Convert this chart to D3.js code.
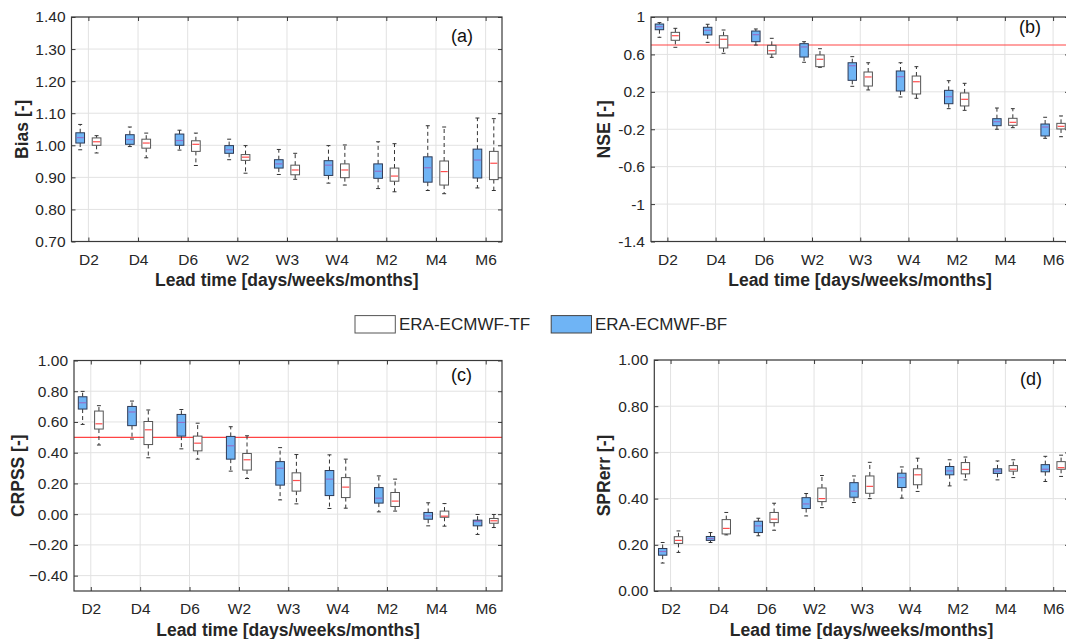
<!DOCTYPE html>
<html><head><meta charset="utf-8">
<script src="https://cdn.jsdelivr.net/npm/d3@7"></script>
<style>
body{margin:0;background:#fff}
svg{display:block;font-family:"Liberation Sans",Arial,Helvetica,sans-serif}
</style>
</head><body>
<svg id="chart" width="1066" height="639"></svg>
<script>
// ---------- DATA ----------
const leadTimes = ["D2","D4","D6","W2","W3","W4","M2","M4","M6"];
// each entry: [lower whisker, Q1, median, Q3, upper whisker]
const biasBF = [[0.986,1.007,1.024,1.039,1.065],[0.996,1.003,1.018,1.033,1.057],[0.985,1.000,1.015,1.035,1.047],[0.955,0.975,0.986,0.999,1.019],[0.909,0.929,0.942,0.955,0.987],[0.882,0.906,0.938,0.952,0.999],[0.865,0.897,0.919,0.942,1.011],[0.859,0.885,0.930,0.964,1.061],[0.867,0.898,0.954,0.988,1.085]];
const biasTF = [[0.976,1.000,1.011,1.023,1.030],[0.961,0.991,1.007,1.019,1.038],[0.937,0.981,1.003,1.014,1.038],[0.913,0.953,0.963,0.971,0.999],[0.894,0.908,0.923,0.938,0.975],[0.876,0.899,0.923,0.942,1.001],[0.855,0.888,0.904,0.929,1.005],[0.849,0.876,0.918,0.951,1.057],[0.859,0.893,0.944,0.981,1.083]];
const nseBF = [[0.783,0.864,0.896,0.925,0.940],[0.729,0.808,0.858,0.890,0.922],[0.700,0.736,0.811,0.850,0.872],[0.516,0.572,0.680,0.715,0.736],[0.259,0.323,0.479,0.511,0.576],[0.145,0.209,0.362,0.423,0.511],[0.020,0.073,0.148,0.216,0.319],[-0.200,-0.162,-0.119,-0.087,0.027],[-0.297,-0.272,-0.176,-0.144,-0.072]];
const nseTF = [[0.676,0.751,0.800,0.836,0.879],[0.612,0.669,0.762,0.800,0.861],[0.569,0.604,0.640,0.697,0.772],[0.462,0.469,0.548,0.594,0.661],[0.220,0.262,0.359,0.412,0.511],[0.131,0.177,0.308,0.369,0.469],[0.002,0.049,0.120,0.188,0.291],[-0.183,-0.158,-0.126,-0.083,0.020],[-0.280,-0.197,-0.169,-0.137,-0.058]];
const crpssBF = [[0.584,0.684,0.725,0.764,0.799],[0.489,0.576,0.665,0.701,0.736],[0.425,0.508,0.597,0.649,0.681],[0.280,0.358,0.445,0.506,0.569],[0.093,0.189,0.299,0.342,0.433],[0.037,0.121,0.228,0.284,0.386],[0.015,0.072,0.104,0.173,0.249],[-0.076,-0.033,-0.011,0.011,0.074],[-0.132,-0.076,-0.048,-0.039,-0.002]];
const crpssTF = [[0.450,0.554,0.588,0.671,0.706],[0.367,0.453,0.549,0.603,0.678],[0.358,0.412,0.462,0.508,0.592],[0.232,0.287,0.354,0.395,0.510],[0.067,0.150,0.219,0.269,0.388],[0.039,0.108,0.176,0.238,0.358],[0.020,0.050,0.085,0.141,0.228],[-0.078,-0.020,-0.013,0.020,0.069],[-0.087,-0.059,-0.043,-0.028,-0.002]];
const sprBF = [[0.121,0.155,0.171,0.184,0.210],[0.210,0.219,0.227,0.236,0.253],[0.239,0.253,0.282,0.302,0.315],[0.325,0.357,0.377,0.404,0.422],[0.383,0.406,0.432,0.469,0.498],[0.402,0.448,0.491,0.510,0.537],[0.455,0.503,0.520,0.539,0.568],[0.481,0.509,0.519,0.529,0.563],[0.474,0.516,0.527,0.547,0.583]];
const sprTF = [[0.167,0.206,0.219,0.235,0.260],[0.243,0.247,0.271,0.309,0.340],[0.263,0.296,0.311,0.340,0.380],[0.361,0.387,0.400,0.446,0.500],[0.400,0.423,0.453,0.498,0.557],[0.431,0.460,0.503,0.529,0.575],[0.481,0.507,0.526,0.556,0.580],[0.491,0.519,0.527,0.543,0.568],[0.496,0.527,0.534,0.560,0.588]];
const biasTicks = [0.7,0.8,0.9,1.0,1.1,1.2,1.3,1.4];
const nseTicks = [-1.4,-1,-0.6,-0.2,0.2,0.6,1];
const crpssTicks = [-0.4,-0.2,0,0.2,0.4,0.6,0.8,1.0];
const sprTicks = [0,0.2,0.4,0.6,0.8,1.0];
const seriesNames = ["ERA-ECMWF-TF","ERA-ECMWF-BF"];
const nseRef = 0.7, crpssRef = 0.5;

// ---------- STYLE / LAYOUT ----------
const C = {
  text:"#262626", frame:"#3a3a3a", grid:"#e2e2e2",
  blueFill:"#6fb4f5", blueStroke:"#2e3a55", blueMed:"#9470c8",
  whiteStroke:"#555555", whiteMed:"#ff4d4d", whisk:"#333333", ref:"#ff4444"
};
const panels = [
  {bf:biasBF, tf:biasTF, ticks:biasTicks, dom:[0.7,1.4], fmt:d3.format(".2f"), ylab:"Bias [-]", tag:"(a)",
   L:71.5, R:502, T:17, B:241.5, ytx:22, tagX:462, tagY:35.5, ref:null},
  {bf:nseBF, tf:nseTF, ticks:nseTicks, dom:[-1.4,1], fmt:d=>String(+d.toFixed(1)), ylab:"NSE [-]", tag:"(b)",
   L:651, R:1069, T:17, B:241.5, ytx:603.5, tagX:1030, tagY:26.7, ref:nseRef},
  {bf:crpssBF, tf:crpssTF, ticks:crpssTicks, dom:[-0.5,1], fmt:d3.format(".2f"), ylab:"CRPSS [-]", tag:"(c)",
   L:74, R:502, T:360.5, B:591, ytx:17.6, tagX:461.5, tagY:375, ref:crpssRef},
  {bf:sprBF, tf:sprTF, ticks:sprTicks, dom:[0,1], fmt:d3.format(".2f"), ylab:"SPRerr [-]", tag:"(d)",
   L:654.3, R:1069, T:360, B:591, ytx:603.5, tagX:1031, tagY:378.3, ref:null}
];
const xDomain = [0.66, 9.33];
const off = 0.165, bw = 0.175, capW = 0.08;

const svg = d3.select("#chart");
svg.append("rect").attr("width",1066).attr("height",639).attr("fill","#fff");

panels.forEach(p => {
  const x = d3.scaleLinear().domain(xDomain).range([p.L, p.R]);
  const y = d3.scaleLinear().domain(p.dom).range([p.B, p.T]);
  const idx = d3.range(1, leadTimes.length+1);
  const g = svg.append("g");

  // grid
  g.append("g").selectAll("line").data(p.ticks).join("line")
    .attr("x1",p.L).attr("x2",p.R).attr("y1",d=>y(d)).attr("y2",d=>y(d))
    .attr("stroke",C.grid).attr("stroke-width",1);
  g.append("g").selectAll("line").data(idx).join("line")
    .attr("y1",p.T).attr("y2",p.B).attr("x1",d=>x(d)).attr("x2",d=>x(d))
    .attr("stroke",C.grid).attr("stroke-width",1);

  // reference line
  if (p.ref !== null) {
    g.append("line").attr("x1",p.L).attr("x2",p.R).attr("y1",y(p.ref)).attr("y2",y(p.ref))
      .attr("stroke",C.ref).attr("stroke-width",1.1);
  }

  // boxes
  const series = [
    {vals:p.bf, dx:-off, fill:C.blueFill, stroke:C.blueStroke, med:C.blueMed},
    {vals:p.tf, dx:off, fill:"#ffffff", stroke:C.whiteStroke, med:C.whiteMed}
  ];
  series.forEach(s => {
    const bg = g.append("g").selectAll("g").data(s.vals).join("g");
    const cx = (d,i) => x(i+1+s.dx);
    // whiskers (dashed)
    bg.append("line").attr("x1",cx).attr("x2",cx).attr("y1",d=>y(d[3])).attr("y2",d=>y(d[4]))
      .attr("stroke",C.whisk).attr("stroke-width",1).attr("stroke-dasharray","4,3");
    bg.append("line").attr("x1",cx).attr("x2",cx).attr("y1",d=>y(d[1])).attr("y2",d=>y(d[0]))
      .attr("stroke",C.whisk).attr("stroke-width",1).attr("stroke-dasharray","4,3");
    // caps
    [0,4].forEach(k => {
      bg.append("line")
        .attr("x1",(d,i)=>x(i+1+s.dx-capW/2)).attr("x2",(d,i)=>x(i+1+s.dx+capW/2))
        .attr("y1",d=>y(d[k])).attr("y2",d=>y(d[k]))
        .attr("stroke",C.whisk).attr("stroke-width",1);
    });
    // box
    bg.append("rect")
      .attr("x",(d,i)=>x(i+1+s.dx-bw/2)).attr("width",(d,i)=>x(i+1+s.dx+bw/2)-x(i+1+s.dx-bw/2))
      .attr("y",d=>y(d[3])).attr("height",d=>Math.max(0.5,y(d[1])-y(d[3])))
      .attr("fill",s.fill).attr("stroke",s.stroke).attr("stroke-width",1);
    // median
    bg.append("line")
      .attr("x1",(d,i)=>x(i+1+s.dx-bw/2)+0.8).attr("x2",(d,i)=>x(i+1+s.dx+bw/2)-0.8)
      .attr("y1",d=>y(d[2])).attr("y2",d=>y(d[2]))
      .attr("stroke",s.med).attr("stroke-width",1.2);
  });

  // axes (ticks inward)
  const styleAxis = a => {
    a.select(".domain").remove();
    a.selectAll(".tick line").attr("stroke",C.frame);
    a.selectAll("text").attr("fill",C.text).style("font-size","15.5px")
      .style("font-family",'"Liberation Sans",Arial,Helvetica,sans-serif');
  };
  g.append("g").attr("transform",`translate(0,${p.B})`)
    .call(d3.axisBottom(x).tickValues(idx).tickFormat(i=>leadTimes[i-1]).tickSize(-4).tickPadding(12))
    .call(styleAxis);
  g.append("g").attr("transform",`translate(0,${p.T})`)
    .call(d3.axisTop(x).tickValues(idx).tickFormat("").tickSize(-4)).call(styleAxis);
  g.append("g").attr("transform",`translate(${p.L},0)`)
    .call(d3.axisLeft(y).tickValues(p.ticks).tickFormat(p.fmt).tickSize(-4).tickPadding(6))
    .call(styleAxis);
  g.append("g").attr("transform",`translate(${p.R},0)`)
    .call(d3.axisRight(y).tickValues(p.ticks).tickFormat("").tickSize(-4)).call(styleAxis);

  // frame
  g.append("rect").attr("x",p.L).attr("y",p.T).attr("width",p.R-p.L).attr("height",p.B-p.T)
    .attr("fill","none").attr("stroke",C.frame).attr("stroke-width",1.2);

  // titles
  g.append("text").attr("x",(p.L+p.R)/2).attr("y",p.B+38.5).attr("dy","0.35em")
    .attr("text-anchor","middle").attr("fill",C.text).style("font-size","17.5px").style("font-weight","bold")
    .text("Lead time [days/weeks/months]");
  g.append("text").attr("transform",`translate(${p.ytx},${(p.T+p.B)/2}) rotate(-90)`).attr("dy","0.35em")
    .attr("text-anchor","middle").attr("fill",C.text).style("font-size","17.5px").style("font-weight","bold")
    .text(p.ylab);
  g.append("text").attr("x",p.tagX).attr("y",p.tagY).attr("dy","0.35em")
    .attr("text-anchor","middle").attr("fill","#111").style("font-size","18px").text(p.tag);
});

// legend
const leg = svg.append("g");
const legItems = [
  {name:seriesNames[0], fill:"#ffffff", stroke:"#555", bx:355, tx:399},
  {name:seriesNames[1], fill:C.blueFill, stroke:"#444", bx:551.2, tx:595}
];
leg.selectAll("rect").data(legItems).join("rect")
  .attr("x",d=>d.bx).attr("y",315.6).attr("width",40.3).attr("height",17.4)
  .attr("fill",d=>d.fill).attr("stroke",d=>d.stroke).attr("stroke-width",1);
leg.selectAll("text").data(legItems).join("text")
  .attr("x",d=>d.tx).attr("y",324.4).attr("dy","0.35em").attr("fill",C.text)
  .style("font-size","17px").text(d=>d.name);
</script>
</body></html>
